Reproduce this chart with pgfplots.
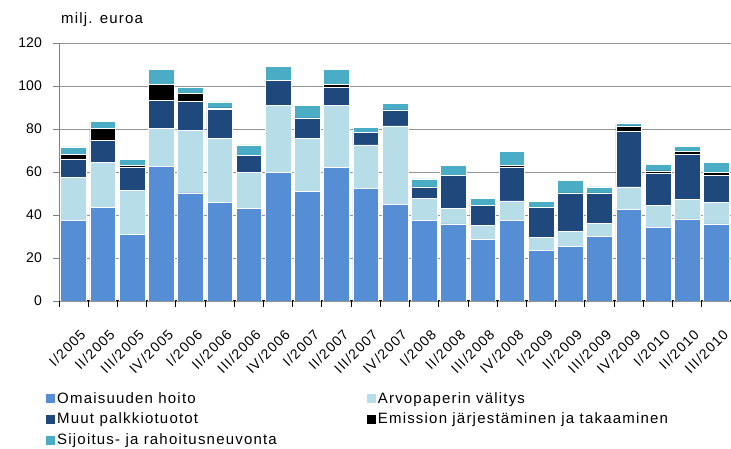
\documentclass[border=0pt]{standalone}
\usepackage{fontspec}
\setmainfont{Liberation Sans}[LetterSpace=8]
\newfontfamily\tickfont{Liberation Sans}
\usepackage{pgfplots}
\usepackage{pgfplotstable}
\pgfplotsset{compat=1.18}
\definecolor{cOm}{HTML}{558ED5}
\definecolor{cArvo}{HTML}{B7DEE8}
\definecolor{cMuut}{HTML}{1F497D}
\definecolor{cEm}{HTML}{000000}
\definecolor{cSij}{HTML}{4BACC6}
\pgfplotsset{sqlegend/.style={legend image code/.code={\fill[##1,draw=none] (0pt,-4.5pt) rectangle (9pt,4.5pt);}}}
\pgfplotstableread{
x om arvo muut em sij
0 37.5 20.1 8.1 2.4 3.6
1 43.4 20.9 10.5 5.3 3.5
2 30.8 20.8 10.8 0.8 2.6
3 62.7 17.4 13.3 7.4 6.8
4 50.3 29.0 13.5 3.7 2.9
5 45.7 29.9 13.4 0.8 2.8
6 42.9 17.0 7.8 0 4.9
7 59.9 31.1 11.5 0 6.7
8 50.9 24.8 9.5 0 5.8
9 62.1 28.9 8.4 1.4 6.8
10 52.5 20.1 5.9 0 2.3
11 45.1 36.3 7.5 0 3.1
12 37.6 10.2 5.3 0 3.7
13 35.9 7.0 15.6 0 4.5
14 28.6 6.7 9.0 0 3.5
15 37.5 9.1 15.8 0.6 6.5
16 23.4 6.0 14.1 0 3.0
17 25.5 6.7 18.1 0 5.7
18 30.0 6.1 14.2 0 2.8
19 42.7 10.4 25.6 2.7 1.4
20 34.4 9.9 14.9 1.3 3.1
21 38.2 9.0 20.9 1.4 2.3
22 35.9 9.8 12.8 1.4 4.4
}\data
\begin{document}
\begin{tikzpicture}
\begin{axis}[
  scale only axis, width=672pt, height=258pt,
  xmin=-0.5, xmax=22.5, ymin=0, ymax=120,
  ybar stacked, bar width=0.88,
  axis x line*=bottom, axis y line*=left,
  x axis line style={-, black, line width=1pt},
  y axis line style={-, gray, line width=0.8pt},
  ytick={0,20,...,120},
  ymajorgrids, grid style={gray!85, line width=0.9pt},
  tick align=outside,
  major tick length=6pt, minor tick length=6pt,
  ytick style={gray, line width=0.8pt},
  xtick={0,...,22},
  major x tick style={draw=none},
  minor xtick={-0.5,0.5,...,22.5},
  minor x tick style={black, line width=1pt},
  xticklabels={I/2005,II/2005,III/2005,IV/2005,I/2006,II/2006,III/2006,IV/2006,I/2007,II/2007,III/2007,IV/2007,I/2008,II/2008,III/2008,IV/2008,I/2009,II/2009,III/2009,IV/2009,I/2010,II/2010,III/2010},
  xticklabel style={rotate=45, anchor=north east, inner sep=0pt, font=\fontsize{14}{16}\selectfont, yshift=-19pt, xshift=-11pt},
  yticklabel style={font=\tickfont\fontsize{14}{16}\selectfont, inner sep=0pt, xshift=-11pt},
  /pgf/number format/assume math mode=true,
  legend columns=2,
  legend cell align=left,
  legend style={at={(-0.0193,-0.345)}, anchor=north west, draw=none, fill=none,
    font=\fontsize{15}{17}\selectfont, inner sep=0pt, row sep=4.5pt,
    /tikz/every even column/.append style={column sep=88pt}},
]
\addplot[fill=cOm, draw=white, line width=0.6pt, sqlegend] table[x=x,y=om]{\data};
\addplot[fill=cArvo, draw=white, line width=0.6pt, sqlegend] table[x=x,y=arvo]{\data};
\addplot[fill=cMuut, draw=white, line width=0.6pt, sqlegend] table[x=x,y=muut]{\data};
\addplot[fill=cEm, draw=white, line width=0.6pt, sqlegend] table[x=x,y=em]{\data};
\addplot[fill=cSij, draw=white, line width=0.6pt, sqlegend] table[x=x,y=sij]{\data};
\legend{Omaisuuden hoito,Arvopaperin välitys,Muut palkkiotuotot,Emission järjestäminen ja takaaminen,Sijoitus- ja rahoitusneuvonta}
\coordinate (O) at (rel axis cs:0,0);
\coordinate (TL) at (rel axis cs:0,1);
\end{axis}
\node[anchor=base west, inner sep=0pt, font=\fontsize{15}{17}\selectfont] at ([xshift=2pt,yshift=19pt]TL) {milj. euroa};
\pgfresetboundingbox
\path (O) ++(-59pt,-148pt) rectangle ++(731pt,449pt);
\end{tikzpicture}
\end{document}
